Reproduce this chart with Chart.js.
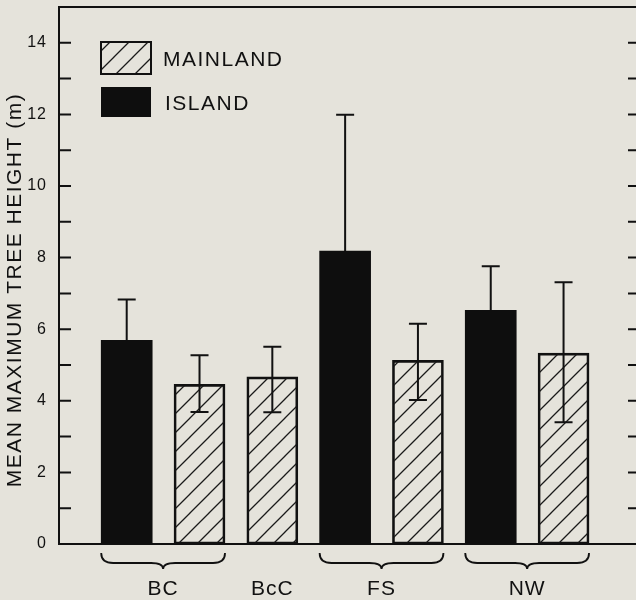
<!DOCTYPE html>
<html>
<head>
<meta charset="utf-8">
<script src="https://cdn.jsdelivr.net/npm/chart.js"></script>
<style>
html, body { margin: 0; padding: 0; background: #e5e3db; overflow: hidden; }
#wrap { width: 648px; height: 600px; }
</style>
</head>
<body>
<div id="wrap"><canvas id="myChart"></canvas></div>
<script>
// groups along the bottom, and which bar positions each one covers
const groups = ['BC', 'BcC', 'FS', 'NW'];
const groupBars = [[1, 2], [3], [4, 5], [6, 7]];

// island bars (solid)
const islandX = [1, 4, 6];
const islandMean = [5.69, 8.18, 6.53];
const islandUpper = [6.83, 11.99, 7.76];

// mainland bars (hatched)
const mainlandX = [2, 3, 5, 7];
const mainlandMean = [4.46, 4.67, 5.13, 5.33];
const mainlandUpper = [5.27, 5.51, 6.15, 7.31];
const mainlandLower = [3.69, 3.68, 4.02, 3.40];

const yTickLabels = ['0', '2', '4', '6', '8', '10', '12', '14'];
const yTitle = 'MEAN MAXIMUM TREE HEIGHT (m)';

const INK = '#111';
const FONT = "'Liberation Sans', Arial, sans-serif";
const BAR_W = 51;

const ctx = document.getElementById('myChart').getContext('2d');

// diagonal hatch for mainland
function makeHatch() {
    const s = 19;
    const c = document.createElement('canvas');
    c.width = s; c.height = s;
    const g = c.getContext('2d');
    g.strokeStyle = '#1a1a1a';
    g.lineWidth = 1.3;
    g.beginPath();
    g.moveTo(-1, s + 1); g.lineTo(s + 1, -1);
    g.moveTo(-s / 2, s / 2); g.lineTo(s / 2, -s / 2);
    g.moveTo(s / 2, s * 1.5); g.lineTo(s * 1.5, s / 2);
    g.stroke();
    return ctx.createPattern(c, 'repeat');
}
const hatch = makeHatch();

const groupX = groupBars.map(b => b.reduce((a, v) => a + v, 0) / b.length);

const spacing = {
    id: 'spacing',
    beforeLayout(chart) { chart.ctx.letterSpacing = '1px'; },
    beforeDraw(chart) { chart.ctx.letterSpacing = '1px'; }
};

// inward ticks, top frame line
const frame = {
    id: 'frame',
    beforeDatasetsDraw(chart) {
        const c = chart.ctx, a = chart.chartArea, ys = chart.scales.y;
        c.save();
        c.strokeStyle = INK;
        c.lineWidth = 2;
        c.beginPath();
        c.moveTo(a.left, a.top); c.lineTo(a.right, a.top);
        c.moveTo(a.right, a.top); c.lineTo(a.right, a.bottom);
        ys.ticks.forEach((t, i) => {
            if (i === 0 || i === ys.ticks.length - 1) return;
            const y = ys.getPixelForValue(t.value);
            c.moveTo(a.left, y); c.lineTo(a.left + 12, y);
            c.moveTo(a.right - 12, y); c.lineTo(a.right, y);
        });
        c.stroke();
        c.restore();
    }
};

const errorBars = {
    id: 'errorBars',
    afterDatasetsDraw(chart) {
        const c = chart.ctx, xs = chart.scales.x, ys = chart.scales.y;
        c.save();
        c.strokeStyle = INK;
        c.lineWidth = 2;
        chart.data.datasets.forEach(ds => {
            ds.data.forEach((p, i) => {
                const x = xs.getPixelForValue(p.x);
                const top = ys.getPixelForValue(ds.upper[i]);
                const bot = ys.getPixelForValue(ds.lower ? ds.lower[i] : p.y);
                c.beginPath();
                c.moveTo(x, top); c.lineTo(x, bot);
                c.moveTo(x - 9, top); c.lineTo(x + 9, top);
                if (ds.lower) { c.moveTo(x - 9, bot); c.lineTo(x + 9, bot); }
                c.stroke();
            });
        });
        c.restore();
    }
};

// braces under groups, legend, y title
const extras = {
    id: 'extras',
    afterDraw(chart) {
        const c = chart.ctx, a = chart.chartArea, xs = chart.scales.x;
        c.save();
        c.strokeStyle = INK;
        c.fillStyle = INK;
        c.lineWidth = 1.8;
        groupBars.forEach(b => {
            if (b.length < 2) return;
            const x1 = xs.getPixelForValue(b[0]) - BAR_W / 2;
            const x2 = xs.getPixelForValue(b[b.length - 1]) + BAR_W / 2;
            const xm = (x1 + x2) / 2, y = a.bottom + 9, h = 10, t = 6, r = 12;
            c.beginPath();
            c.moveTo(x1, y);
            c.quadraticCurveTo(x1, y + h, x1 + r, y + h);
            c.lineTo(xm - r, y + h);
            c.quadraticCurveTo(xm, y + h, xm, y + h + t);
            c.quadraticCurveTo(xm, y + h, xm + r, y + h);
            c.lineTo(x2 - r, y + h);
            c.quadraticCurveTo(x2, y + h, x2, y);
            c.stroke();
        });

        // legend
        const lx = a.left + 42, ly = a.top + 35;
        const ds = chart.data.datasets;
        c.fillStyle = ds[0].backgroundColor;
        c.fillRect(lx, ly, 50, 32);
        c.lineWidth = 2;
        c.strokeRect(lx, ly, 50, 32);
        c.fillStyle = ds[1].backgroundColor;
        c.fillRect(lx, ly + 45, 50, 30);
        c.fillStyle = INK;
        c.font = '21px ' + FONT;
        c.letterSpacing = '1.5px';
        c.textBaseline = 'middle';
        c.textAlign = 'left';
        c.fillText(ds[0].label, lx + 62, ly + 18);
        c.fillText(ds[1].label, lx + 64, ly + 62);

        // axis title
        c.translate(15, 290);
        c.rotate(-Math.PI / 2);
        c.textAlign = 'center';
        c.fillText(yTitle, 0, 0);
        c.restore();
    }
};

new Chart(ctx, {
    type: 'bar',
    data: {
        datasets: [
            {
                label: 'MAINLAND',
                data: mainlandX.map((x, i) => ({ x: x, y: mainlandMean[i] })),
                upper: mainlandUpper,
                lower: mainlandLower,
                backgroundColor: hatch,
                borderColor: INK,
                borderWidth: 2,
                borderSkipped: false
            },
            {
                label: 'ISLAND',
                data: islandX.map((x, i) => ({ x: x, y: islandMean[i] })),
                upper: islandUpper,
                backgroundColor: '#0e0e0e',
                borderWidth: 0
            }
        ]
    },
    options: {
        responsive: true,
        maintainAspectRatio: false,
        animation: false,
        grouped: false,
        barThickness: BAR_W,
        layout: { padding: { top: 7, right: 8, left: 0, bottom: 0 } },
        plugins: { legend: { display: false }, tooltip: { enabled: false } },
        scales: {
            x: {
                type: 'linear',
                offset: false,
                min: 0.07,
                max: 8.05,
                afterBuildTicks(s) { s.ticks = groupX.map(v => ({ value: v })); },
                afterFit(s) { s.height = 56; s.paddingLeft = 0; s.paddingRight = 0; },
                ticks: {
                    autoSkip: false,
                    maxRotation: 0,
                    padding: 33,
                    color: INK,
                    font: { family: FONT, size: 21 },
                    callback: v => groups[groupX.indexOf(v)]
                },
                grid: { display: false, drawTicks: false, offset: false },
                border: { display: true, color: INK, width: 2 }
            },
            y: {
                min: 0,
                max: 15,
                afterFit(s) { s.width = 59; s.paddingTop = 0; s.paddingBottom = 0; },
                ticks: {
                    stepSize: 1,
                    autoSkip: false,
                    padding: 12,
                    color: INK,
                    font: { family: FONT, size: 16 },
                    callback: v => (v % 2 === 0 ? yTickLabels[v / 2] : '')
                },
                grid: { display: false, drawTicks: false },
                border: { display: true, color: INK, width: 2 }
            }
        }
    },
    plugins: [spacing, frame, errorBars, extras]
});
</script>
</body>
</html>
